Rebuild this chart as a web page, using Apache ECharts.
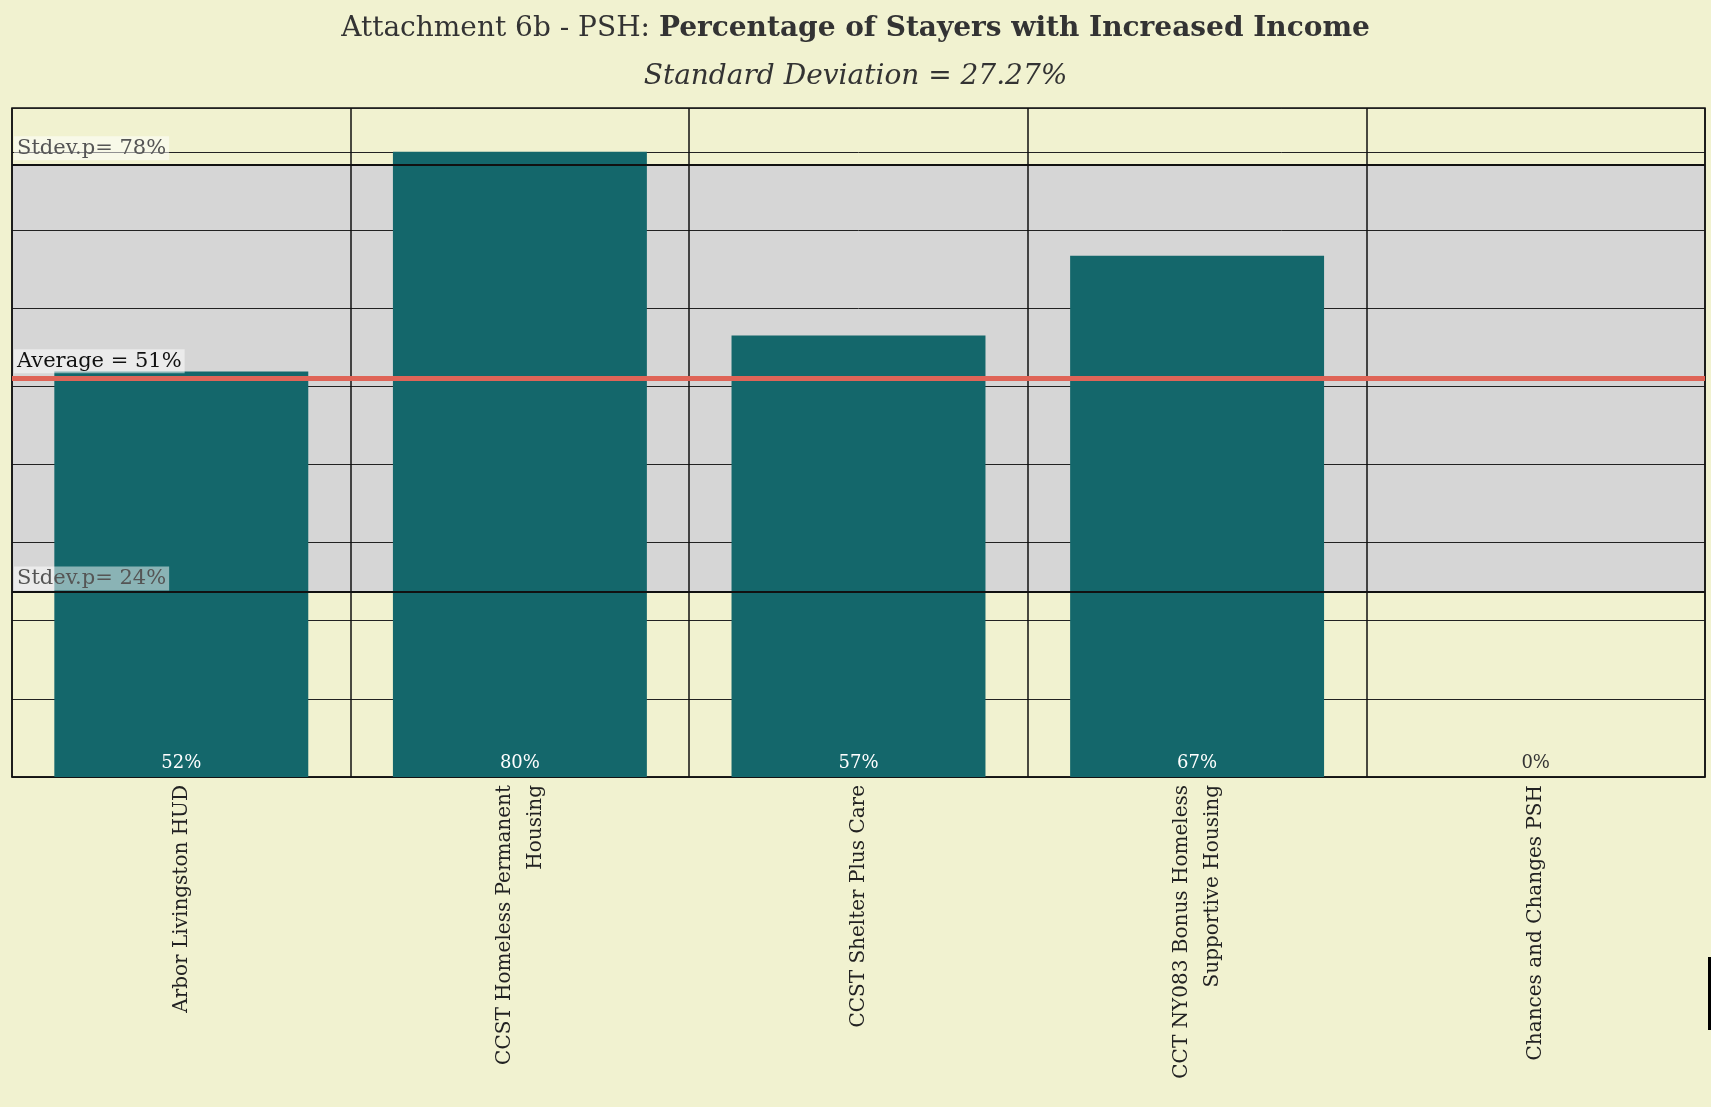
<!DOCTYPE html>
<html>
<head>
<meta charset="utf-8">
<script src="https://cdn.jsdelivr.net/npm/echarts@6/dist/echarts.min.js"></script>
<style>
  html, body { margin: 0; padding: 0; background: #f1f2d0; }
  #myChart { width: 1711px; height: 1107px; }
</style>
</head>
<body>
<div id="myChart"></div>
<script>
  // programs and % of stayers with increased income
  let programs = [
    'Arbor Livingston HUD',
    'CCST Homeless Permanent\nHousing',
    'CCST Shelter Plus Care',
    'CCT NY083 Bonus Homeless\nSupportive Housing',
    'Chances and Changes PSH'
  ];
  let pctValues = [51.9, 80, 56.5, 66.7, 0];

  // reference lines
  let averageValue = 51.02;
  let stdevUpper = 78.29;
  let stdevLower = 23.75;
  let refLabels = ['Average = 51%', 'Stdev.p= 78%', 'Stdev.p= 24%'];

  let yTicks = { min: 0, max: 85.6, interval: 10 };

  let font = '"DejaVu Serif", "Liberation Serif", serif';
  let myChart = echarts.init(document.getElementById('myChart'));

  let barData = pctValues.map((v) => ({
    value: v,
    label: { color: v === 0 ? '#333' : '#fff' }
  }));

  let option = {
    backgroundColor: '#f1f2d0',
    animation: false,
    title: [{
      text: '{a|Attachment 6b - PSH: }{b|Percentage of Stayers with Increased Income}',
      left: 'center',
      top: 10,
      textStyle: {
        fontWeight: 'normal',
        rich: {
          a: { fontFamily: font, fontSize: 28, fontWeight: 'normal', color: '#333' },
          b: { fontFamily: font, fontSize: 28, fontWeight: 'bold', color: '#333' }
        }
      }
    }, {
      text: 'Standard Deviation = 27.27%',
      left: 'center',
      top: 58,
      textStyle: { fontFamily: font, fontSize: 28, fontStyle: 'italic', fontWeight: 'normal', color: '#333' }
    }],
    grid: {
      left: 12,
      right: 6,
      top: 108,
      bottom: 330,
      show: true,
      borderColor: '#111',
      borderWidth: 1.5,
      z: 1.5
    },
    xAxis: {
      type: 'category',
      data: programs,
      z: 1.5,
      axisLine: { show: true, lineStyle: { color: '#111', width: 1.5 } },
      axisTick: { show: false },
      splitLine: { show: true, lineStyle: { color: '#111', width: 1.5 } },
      axisLabel: {
        rotate: 90,
        interval: 0,
        margin: 8,
        fontFamily: font,
        fontSize: 20,
        lineHeight: 31,
        color: '#222'
      }
    },
    yAxis: {
      type: 'value',
      min: yTicks.min,
      max: yTicks.max,
      interval: yTicks.interval,
      z: 1.5,
      axisLine: { show: false },
      axisTick: { show: false },
      axisLabel: { show: false },
      splitLine: { show: true, lineStyle: { color: '#222', width: 1 } }
    },
    series: [{
      name: 'Stayers with Increased Income',
      type: 'bar',
      barCategoryGap: '25%',
      itemStyle: { color: '#14676b' },
      label: {
        show: true,
        position: 'insideBottom',
        distance: 5,
        fontFamily: font,
        fontSize: 18,
        formatter: (p) => Math.round(p.value) + '%'
      },
      data: barData,
      markArea: {
        silent: true,
        z: 1,
        itemStyle: { color: '#d6d6d6', opacity: 1 },
        data: [[{ yAxis: stdevLower }, { yAxis: stdevUpper }]]
      },
      markLine: {
        silent: true,
        symbol: 'none',
        data: [{
          yAxis: averageValue,
          lineStyle: { color: '#df6457', width: 5, type: 'solid', opacity: 1 },
          label: {
            formatter: refLabels[0],
            color: '#111',
            distance: [2, 5]
          }
        }, {
          yAxis: stdevUpper,
          lineStyle: { color: '#111', width: 2, type: 'solid' },
          label: {
            formatter: refLabels[1],
            color: '#555',
            distance: [2, 5]
          }
        }, {
          yAxis: stdevLower,
          lineStyle: { color: '#111', width: 2, type: 'solid' },
          label: {
            formatter: refLabels[2],
            color: '#555',
            distance: [2, 1]
          }
        }],
        label: {
          show: true,
          position: 'insideStartTop',
          fontFamily: font,
          fontSize: 21,
          backgroundColor: 'rgba(255,255,255,0.5)',
          padding: [2, 3, 1, 3]
        }
      }
    }],
    graphic: [{
      type: 'rect',
      left: 1708,
      top: 957,
      shape: { width: 3, height: 73 },
      style: { fill: '#000' }
    }]
  };

  myChart.setOption(option);
</script>
</body>
</html>
